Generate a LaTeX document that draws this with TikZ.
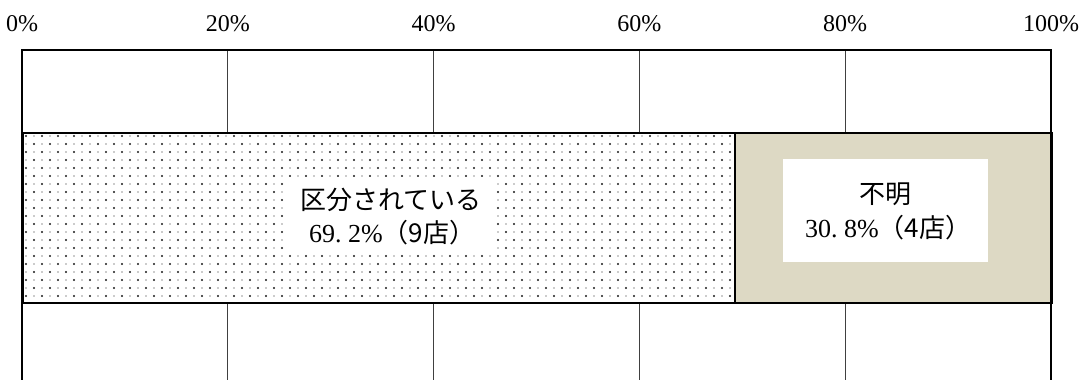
\documentclass[tikz,border=0pt]{standalone}
\usepackage{fontspec}
\setmainfont{Liberation Serif}
\newfontfamily\cjk{Noto Sans CJK JP}
\definecolor{beige}{RGB}{221,217,196}
\tikzset{
  axlab/.style={font=\fontsize{24}{28}\selectfont, inner sep=0pt},
  gridln/.style={line width=0.9pt, black!75},
  frameln/.style={line width=2.2pt, black},
  barbox/.style={draw=black, line width=2.4pt, inner sep=0pt, anchor=north west},
  lblbox/.style={fill=white, inner sep=0pt, anchor=north west},
  lbltxt/.style={font=\fontsize{26}{30}\selectfont, inner sep=0pt},
  dotdark/.style={fill=black!90},
  dotlight/.style={fill=black!40},
}
\begin{document}
\begin{tikzpicture}[x=1pt,y=-1pt]
\useasboundingbox (0,0) rectangle (1087,380);
% axis labels
\foreach \p/\x in {0/22, 20/227.8, 40/433.6, 60/639.4, 80/845.2, 100/1051}{
  \node[axlab] (t\p) at (\x,24) {\p\%};
}
% grid lines
\foreach \n/\x in {a/227.8, b/433.6, c/639.4, d/845.2}{
  \coordinate (g\n1) at (\x,50);
  \coordinate (g\n2) at (\x,380);
  \draw[gridln] (g\n1) -- (g\n2);
}
% left bar (dotted)
\node[lblbox, minimum width=712pt, minimum height=170pt] (barL) at (22,132) {};
\begin{scope}
  \clip (22,132) rectangle (734,302);
  \foreach \yy in {136,152,...,304}{\foreach \xx in {26,42,...,740}{\fill[dotdark] (\xx,\yy) circle (1.2);}}
  \foreach \yy in {144,160,...,304}{\foreach \xx in {34,50,...,740}{\fill[dotdark] (\xx,\yy) circle (1.2);}}
  \foreach \yy in {136,152,...,304}{\foreach \xx in {34,50,...,740}{\fill[dotlight] (\xx,\yy) circle (0.8);}}
  \foreach \yy in {144,160,...,304}{\foreach \xx in {26,42,...,740}{\fill[dotlight] (\xx,\yy) circle (0.8);}}
\end{scope}
% right bar
\node[barbox, fill=beige, minimum width=317pt, minimum height=170pt] (barR) at (734,132) {};
\node[barbox, minimum width=712pt, minimum height=170pt] (barLb) at (22,132) {};
% label boxes
\node[lblbox, minimum width=205pt, minimum height=76pt] (boxL) at (288,177) {};
\node[lblbox, minimum width=205pt, minimum height=103pt] (boxR) at (783,159) {};
% labels
\node[lbltxt, anchor=west] (l1) at (300,200) {\cjk 区分されている};
\node[lbltxt, anchor=west] (l2) at (309,233) {69\makebox[0.5em][l]{.}2\%\cjk （9店）};
\node[lbltxt] (r1) at (885,194) {\cjk 不明};
\node[lbltxt, anchor=west] (r2) at (805,228) {30\makebox[0.5em][l]{.}8\%\cjk （4店）};
% frame
\coordinate (f1) at (22,380);
\coordinate (f2) at (22,50);
\coordinate (f3) at (1051,50);
\coordinate (f4) at (1051,380);
\draw[frameln] (f1) -- (f2) -- (f3) -- (f4);
\end{tikzpicture}
\end{document}
